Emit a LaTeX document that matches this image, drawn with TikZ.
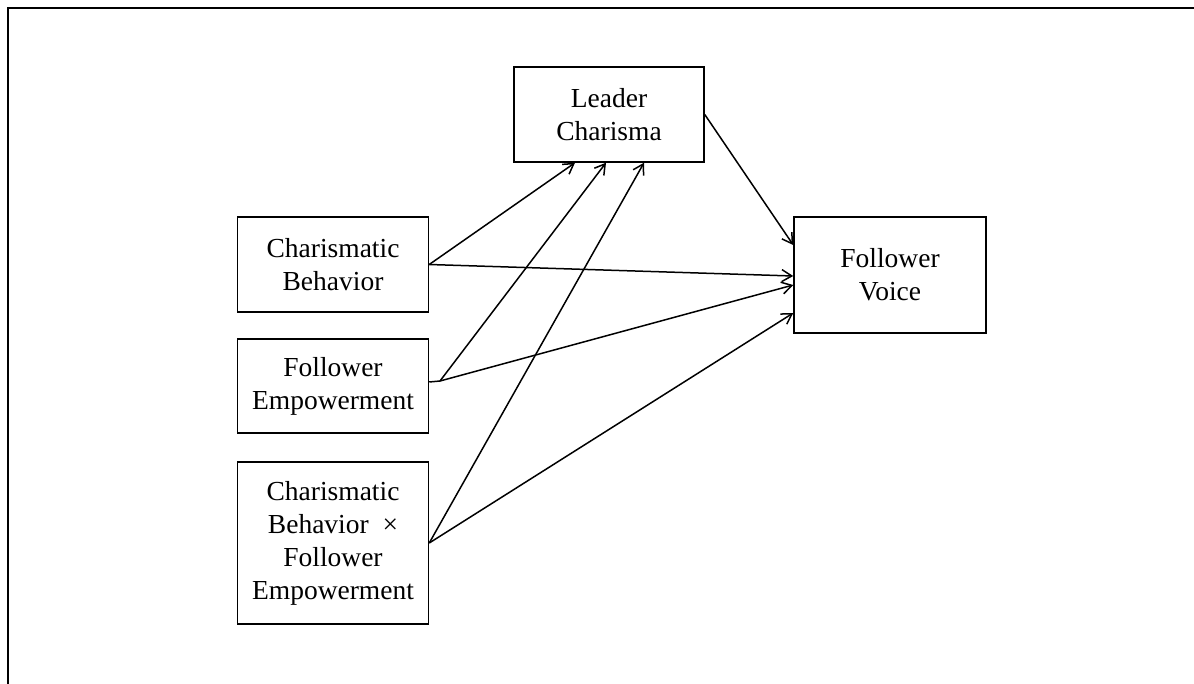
\documentclass[tikz,border=0pt]{standalone}
\usepackage{fontspec}
\setmainfont{Liberation Serif}
\usetikzlibrary{arrows.meta}
\begin{document}
\begin{tikzpicture}[x=1pt,y=-1pt,
  box/.style={draw,line width=1.5pt,inner sep=0pt,align=center,
    font=\fontsize{27.5}{33}\selectfont},
  conn/.style={line width=1.5pt,-{Straight Barb[length=10pt,width=12pt,line width=1.5pt]}}]
\useasboundingbox (0,0) rectangle (1194,684);
% frame (left and top edges)
\draw[line width=2pt] (8,684) -- (8,8) -- (1194,8);
% nodes
\node[box,minimum width=190pt,minimum height=95pt] (lc) at (609,114.5) {Leader\\Charisma};
\node[box,minimum width=191pt,minimum height=95pt] (cb) at (333,264.5) {Charismatic\\Behavior};
\node[box,minimum width=191pt,minimum height=94pt] (fe) at (333,386) {Follower\\Empowerment};
\node[box,minimum width=191pt,minimum height=162pt] (int) at (333,543) {Charismatic\\Behavior~~×\\Follower\\Empowerment};
\node[box,minimum width=192pt,minimum height=116pt] (fv) at (890,275) {Follower\\Voice};
\coordinate (feb) at (440,381);
% connectors
\draw[line width=1.5pt] ([yshift=4pt]fe.east) -- (feb);
\draw[conn] (cb.east) -- ([xshift=-34pt]lc.south);
\draw[conn] (feb) -- ([xshift=-3pt]lc.south);
\draw[conn] (int.east) -- ([xshift=35pt]lc.south);
\draw[conn] (lc.east) -- ([yshift=30pt]fv.west);
\draw[conn] (cb.east) -- ([yshift=-1pt]fv.west);
\draw[conn] (feb) -- ([yshift=-10pt]fv.west);
\draw[conn] (int.east) -- ([yshift=-38pt]fv.west);
\end{tikzpicture}
\end{document}
